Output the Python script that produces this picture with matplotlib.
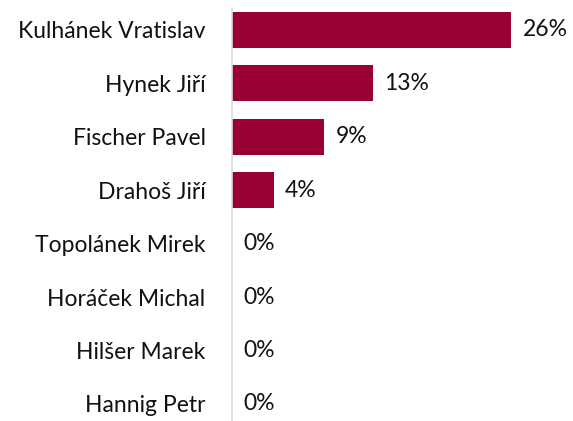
import matplotlib
matplotlib.use("Agg")
import matplotlib.pyplot as plt

names = ["Kulhánek Vratislav", "Hynek Jiří", "Fischer Pavel", "Drahoš Jiří",
         "Topolánek Mirek", "Horáček Michal", "Hilšer Marek", "Hannig Petr"]
values = [26, 13.1, 8.6, 3.9, 0, 0, 0, 0]
labels = ["26%", "13%", "9%", "4%", "0%", "0%", "0%", "0%"]

plt.rcParams['font.family'] = ['Lato', 'DejaVu Sans']

fig = plt.figure(figsize=(5.73, 4.21), dpi=100)
ax = fig.add_axes([232/573, 0, 333/573, 413/421])

y = range(len(names))
bars = ax.barh(y, values, height=0.67, color='#990033')
for b, lab in zip(bars, labels):
    ax.annotate(lab, (b.get_width(), b.get_y() + b.get_height()/2),
                xytext=(8, 0), textcoords='offset points',
                va='center', ha='left', fontsize=16.5, color='#111111')

ax.set_yticks(list(y))
ax.set_yticklabels(names, fontsize=16.5, color='#111111')
ax.tick_params(axis='y', length=0, pad=19)
ax.set_xticks([])
ax.set_xlim(0, 31)
ax.set_ylim(7.32, -0.41)
for s in ['top', 'right', 'bottom']:
    ax.spines[s].set_visible(False)
ax.spines['left'].set_color('#d9d9d9')
ax.spines['left'].set_linewidth(1.2)

fig.savefig('out.png', dpi=100)
